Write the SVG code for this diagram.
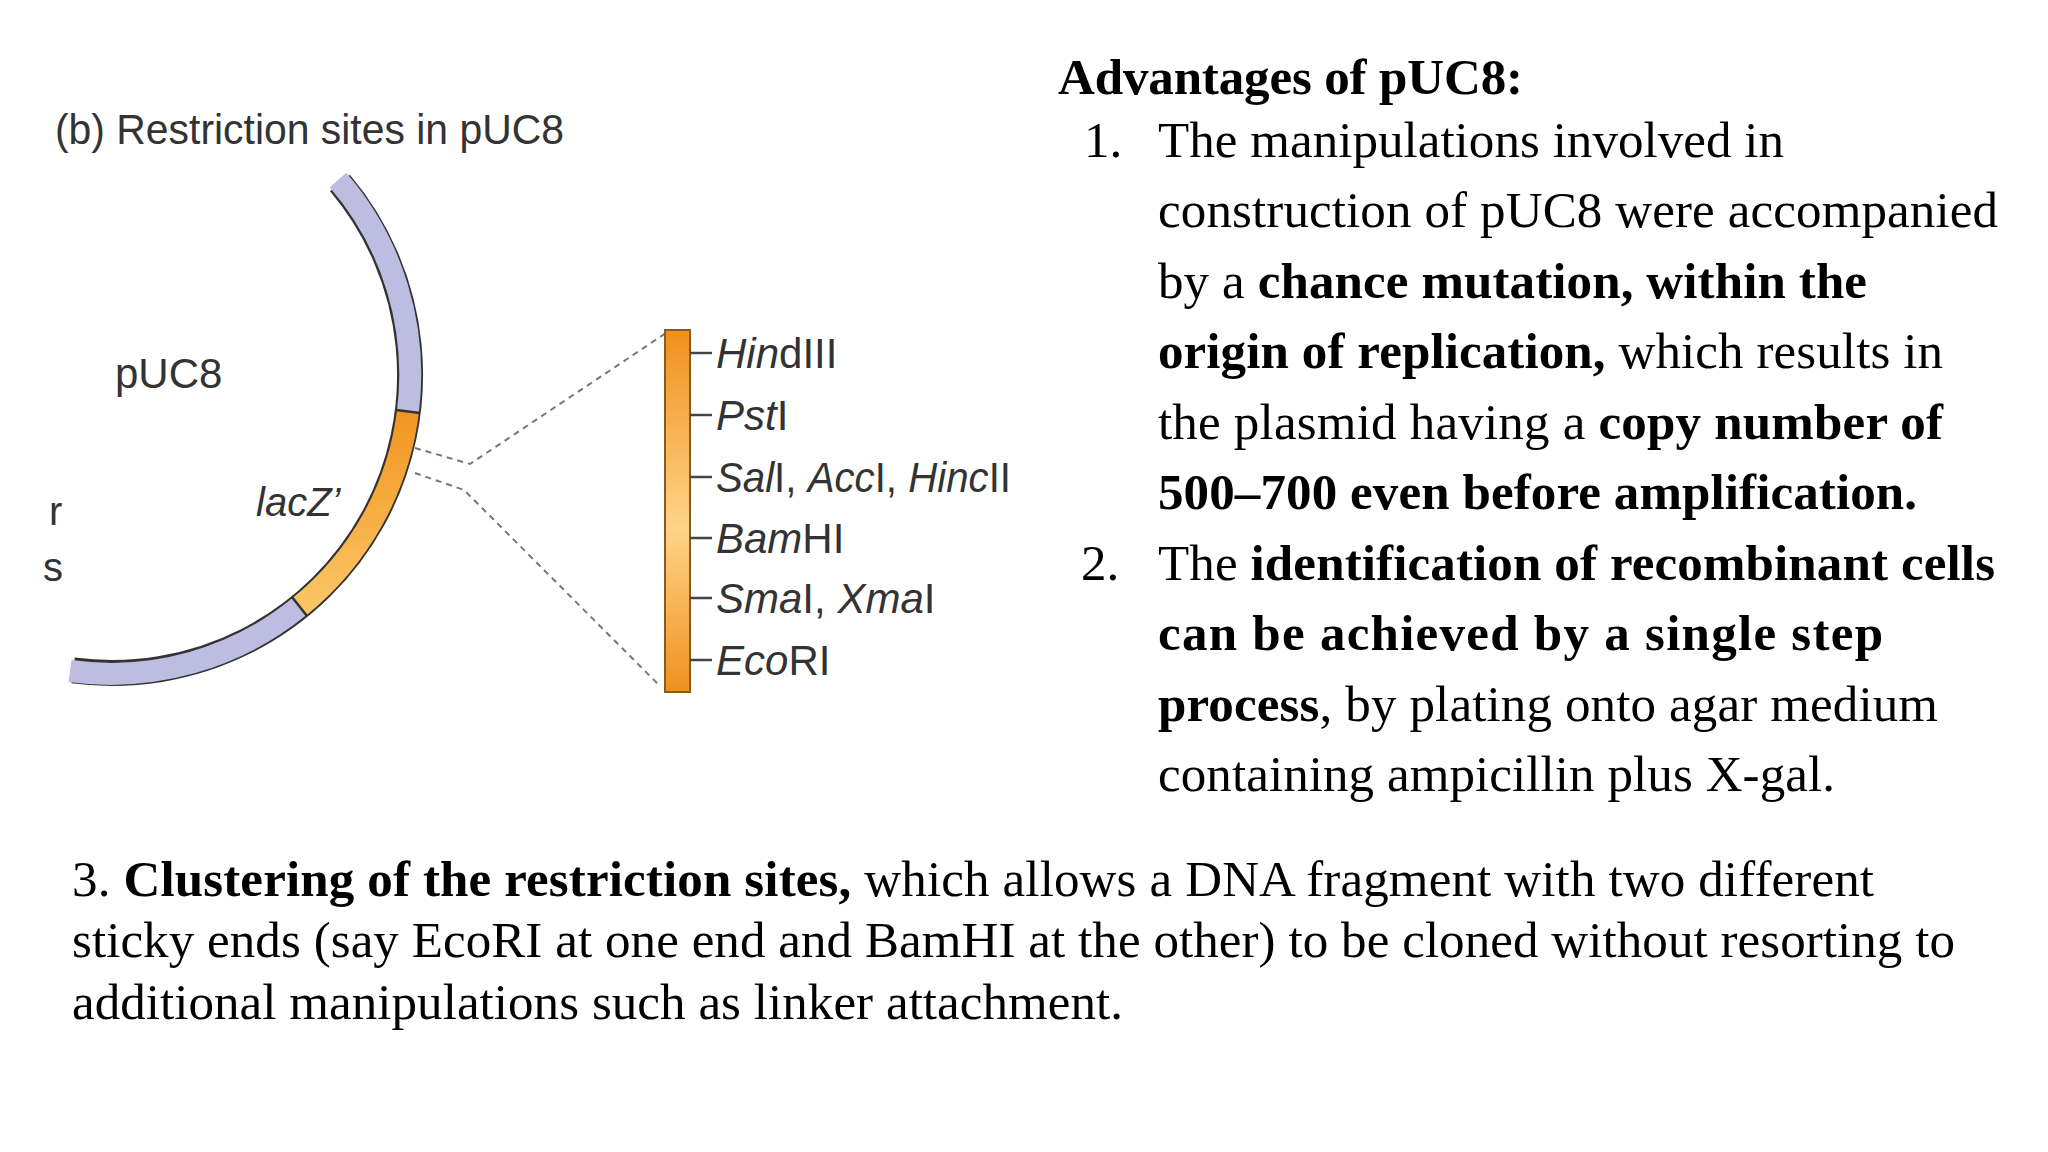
<svg xmlns="http://www.w3.org/2000/svg" width="2048" height="1152" viewBox="0 0 2048 1152">
<defs>
<linearGradient id="bar" x1="0" y1="0" x2="0" y2="1"><stop offset="0" stop-color="#f0901e"/><stop offset="0.55" stop-color="#fed488"/><stop offset="1" stop-color="#f0901e"/></linearGradient>
<linearGradient id="lz" x1="0" y1="0" x2="0" y2="1"><stop offset="0" stop-color="#f2951f"/><stop offset="1" stop-color="#fbc565"/></linearGradient>
<style>
.dg{font-family:"Liberation Sans",Arial,sans-serif;fill:#333}
.it{font-style:italic}
.tx{font-family:"Liberation Serif","Times New Roman",serif;fill:#000;font-size:51px}
.b{font-weight:bold}
.dash{fill:none;stroke:#777;stroke-width:2;stroke-dasharray:6 5}
.tick{stroke:#444;stroke-width:2.5}
</style>
</defs>
<rect width="2048" height="1152" fill="#fff"/>
<g id="diagram">
<text class="dg" x="55" y="144" font-size="42" textLength="509" lengthAdjust="spacingAndGlyphs">(b) Restriction sites in pUC8</text>
<g id="plasmid">
<path d="M340,183 A298,298 0 0 1 73.1,670.4" fill="none" stroke="#333" stroke-width="26"/>
<path d="M338,180 A298,298 0 0 1 408,411" fill="none" stroke="#bcbde0" stroke-width="22"/>
<path d="M408,411 A298,298 0 0 1 299.5,606.6" fill="none" stroke="url(#lz)" stroke-width="22"/>
<path d="M299.5,606.6 A298,298 0 0 1 70,671" fill="none" stroke="#bcbde0" stroke-width="22"/>
<line x1="396" y1="410" x2="420" y2="413" stroke="#333" stroke-width="2.5"/>
<line x1="292" y1="597" x2="307" y2="616" stroke="#333" stroke-width="2.5"/>
<text class="dg" x="115" y="388" font-size="42">pUC8</text>
<text class="dg it" x="256" y="516" font-size="40">lacZ’</text>
<text class="dg" x="49" y="525" font-size="40">r</text>
<text class="dg" x="43" y="581" font-size="40">s</text>
</g>
<g id="connectors">
<polyline class="dash" points="415,448 470,464 666,333"/>
<polyline class="dash" points="415,473 464,490 660,686"/>
</g>
<g id="mcs">
<rect x="665" y="330" width="25" height="362" fill="url(#bar)" stroke="#8a5a20" stroke-width="2"/>
<line class="tick" x1="690" y1="353" x2="712" y2="353"/>
<line class="tick" x1="690" y1="415" x2="712" y2="415"/>
<line class="tick" x1="690" y1="477" x2="712" y2="477"/>
<line class="tick" x1="690" y1="538" x2="712" y2="538"/>
<line class="tick" x1="690" y1="598" x2="712" y2="598"/>
<line class="tick" x1="690" y1="660" x2="712" y2="660"/>
<text class="dg" x="716" y="368" font-size="42"><tspan class="it">Hin</tspan>dIII</text>
<text class="dg" x="716" y="430" font-size="42"><tspan class="it">Pst</tspan>I</text>
<text class="dg" x="716" y="492" font-size="42" textLength="295" lengthAdjust="spacingAndGlyphs"><tspan class="it">Sal</tspan>I, <tspan class="it">Acc</tspan>I, <tspan class="it">Hinc</tspan>II</text>
<text class="dg" x="716" y="553" font-size="42"><tspan class="it">Bam</tspan>HI</text>
<text class="dg" x="716" y="613" font-size="42"><tspan class="it">Sma</tspan>I, <tspan class="it">Xma</tspan>I</text>
<text class="dg" x="716" y="675" font-size="42"><tspan class="it">Eco</tspan>RI</text>
</g>
</g>
<g id="advantages">
<text class="tx b" x="1058" y="94" textLength="465">Advantages of pUC8:</text>
<text class="tx" x="1084" y="157">1.</text>
<text class="tx" x="1158" y="157" textLength="626">The manipulations involved in</text>
<text class="tx" x="1158" y="227" textLength="840">construction of pUC8 were accompanied</text>
<text class="tx" x="1158" y="298" textLength="709">by a <tspan class="b">chance mutation, within the</tspan></text>
<text class="tx" x="1158" y="368" textLength="785"><tspan class="b">origin of replication,</tspan> which results in</text>
<text class="tx" x="1158" y="439" textLength="785">the plasmid having a <tspan class="b">copy number of</tspan></text>
<text class="tx b" x="1158" y="509" textLength="759">500–700 even before amplification.</text>
<text class="tx" x="1081" y="580">2.</text>
<text class="tx" x="1158" y="580" textLength="837">The <tspan class="b">identification of recombinant cells</tspan></text>
<text class="tx b" x="1158" y="650" textLength="725">can be achieved by a single step</text>
<text class="tx" x="1158" y="721" textLength="780"><tspan class="b">process</tspan>, by plating onto agar medium</text>
<text class="tx" x="1158" y="791" textLength="677">containing ampicillin plus X-gal.</text>
</g>
<g id="point3">
<text class="tx" x="72" y="896" textLength="1802">3. <tspan class="b">Clustering of the restriction sites,</tspan> which allows a DNA fragment with two different</text>
<text class="tx" x="72" y="957" textLength="1883">sticky ends (say EcoRI at one end and BamHI at the other) to be cloned without resorting to</text>
<text class="tx" x="72" y="1019" textLength="1051">additional manipulations such as linker attachment.</text>
</g>
</svg>
